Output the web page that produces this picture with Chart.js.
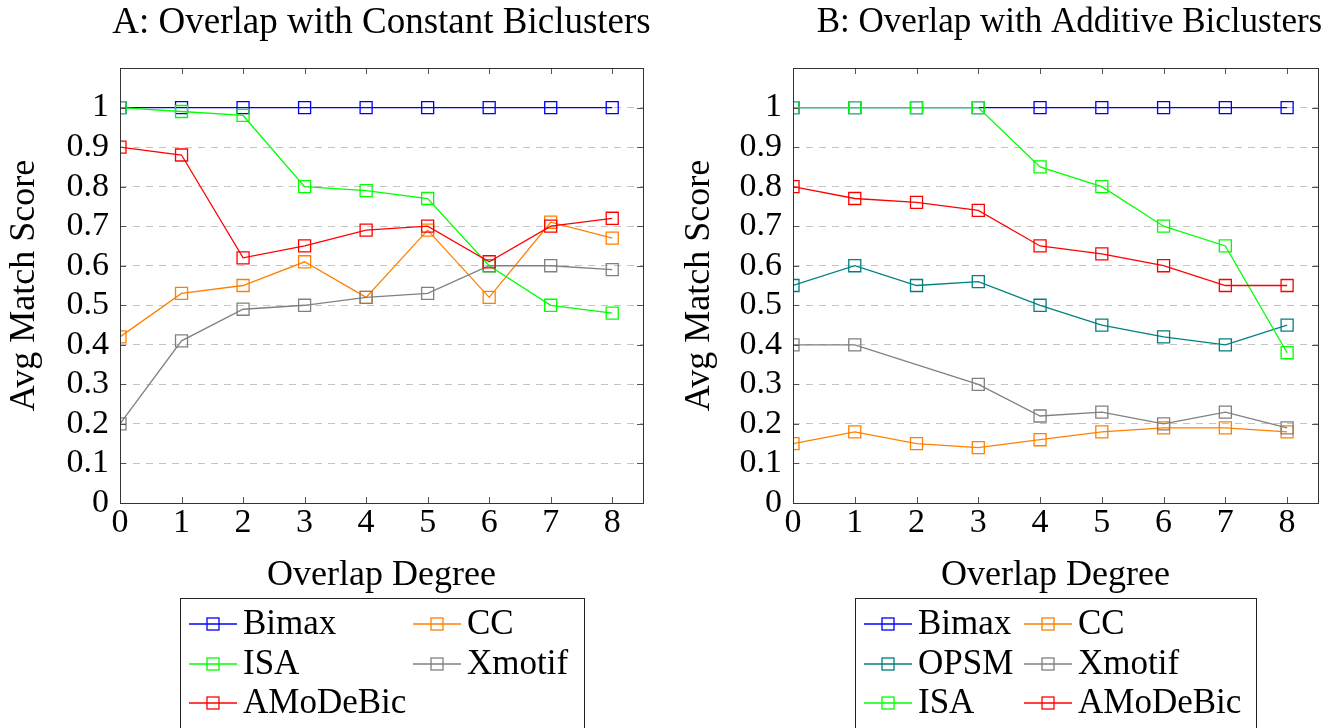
<!DOCTYPE html>
<html>
<head>
<meta charset="utf-8">
<script src="https://cdn.jsdelivr.net/npm/chart.js@4.4.1/dist/chart.umd.min.js"></script>
<style>
    body { margin: 0; background: #fff; }
    #wrap { position: relative; width: 1336px; height: 728px; overflow: hidden; }
    .pane { position: absolute; top: 0; width: 668px; height: 728px; }
</style>
</head>
<body>
<div id="wrap">
    <div class="pane" style="left:0"><canvas id="chartA" width="668" height="728"></canvas></div>
    <div class="pane" style="left:668px"><canvas id="chartB" width="668" height="728"></canvas></div>
</div>
<script>
// overlap degree on the x axis
const degrees = [0, 1, 2, 3, 4, 5, 6, 7, 8];

// A: constant biclusters
const constBimax    = [1, 1, 1, 1, 1, 1, 1, 1, 1];
const constCC       = [0.42, 0.53, 0.55, 0.61, 0.52, 0.69, 0.52, 0.71, 0.67];
const constISA      = [1, 0.99, 0.98, 0.80, 0.79, 0.77, 0.60, 0.50, 0.48];
const constXmotif   = [0.20, 0.41, 0.49, 0.50, 0.52, 0.53, 0.60, 0.60, 0.59];
const constAMoDeBic = [0.90, 0.88, 0.62, 0.65, 0.69, 0.70, 0.61, 0.70, 0.72];

// B: additive biclusters (Xmotif has no point at degree 2)
const addBimax    = [1, 1, 1, 1, 1, 1, 1, 1, 1];
const addCC       = [0.15, 0.18, 0.15, 0.14, 0.16, 0.18, 0.19, 0.19, 0.18];
const addOPSM     = [0.55, 0.60, 0.55, 0.56, 0.50, 0.45, 0.42, 0.40, 0.45];
const addXmotif   = [0.40, 0.40, null, 0.30, 0.22, 0.23, 0.20, 0.23, 0.19];
const addISA      = [1, 1, 1, 1, 0.85, 0.80, 0.70, 0.65, 0.38];
const addAMoDeBic = [0.80, 0.77, 0.76, 0.74, 0.65, 0.63, 0.60, 0.55, 0.55];

const yMax = 1.1;
const xMax = 8.5;
const serif = "'Liberation Serif', 'DejaVu Serif', serif";

const colors = {
    Bimax: '#0000ff',
    CC: '#ff8000',
    ISA: '#00ff00',
    Xmotif: '#808080',
    OPSM: '#008080',
    AMoDeBic: '#ff0000'
};

function makeSet(name, values, i, n) {
    return {
        label: name,
        data: values.map((v, k) => ({ x: degrees[k], y: v })),
        borderColor: colors[name],
        backgroundColor: 'rgba(0,0,0,0)',
        pointBackgroundColor: 'rgba(0,0,0,0)',
        pointStyle: 'rect',
        pointRadius: 8.5,
        pointBorderWidth: 1.3,
        borderWidth: 1.3,
        tension: 0,
        spanGaps: true,
        order: n - i
    };
}

// frame, inner ticks, title and boxed legend
const framePlugin = {
    id: 'frame',
    afterDatasetsDraw(chart, args, opts) {
        const { ctx, chartArea: a } = chart;
        const ys = chart.scales.y, xs = chart.scales.x;
        ctx.save();
        ctx.strokeStyle = '#555';
        ctx.lineWidth = 1;
        for (let v = 0; v <= 10; v++) {
            const py = Math.round(ys.getPixelForValue(v / 10)) + 0.5;
            ctx.beginPath();
            ctx.moveTo(a.left, py); ctx.lineTo(a.left + 6, py);
            ctx.moveTo(a.right - 6, py); ctx.lineTo(a.right, py);
            ctx.stroke();
        }
        degrees.forEach(d => {
            const px = Math.round(xs.getPixelForValue(d)) + 0.5;
            ctx.beginPath();
            ctx.moveTo(px, a.bottom); ctx.lineTo(px, a.bottom - 6);
            ctx.moveTo(px, a.top); ctx.lineTo(px, a.top + 6);
            ctx.stroke();
        });
        ctx.strokeStyle = '#333';
        ctx.strokeRect(Math.round(a.left) + 0.5, Math.round(a.top) + 0.5,
            Math.round(a.right - a.left), Math.round(a.bottom - a.top));

        // title
        ctx.fillStyle = '#000';
        ctx.font = opts.titleSize + 'px ' + serif;
        ctx.textAlign = 'center';
        ctx.textBaseline = 'middle';
        ctx.fillText(opts.title, (a.left + a.right) / 2 + opts.titleShift, 23);

        // legend
        const [bx, by, bw, bh] = opts.box;
        ctx.strokeStyle = '#222';
        ctx.strokeRect(bx + 0.5, by + 0.5, bw, bh);
        ctx.font = '35px ' + serif;
        ctx.textAlign = 'left';
        chart.data.datasets.forEach((ds, i) => {
            const cx = opts.cols[i % 2];
            const cy = opts.rows[Math.floor(i / 2)];
            ctx.strokeStyle = ds.borderColor;
            ctx.lineWidth = 1.3;
            ctx.beginPath();
            ctx.moveTo(cx, cy); ctx.lineTo(cx + 48, cy);
            ctx.stroke();
            ctx.strokeRect(cx + 18, cy - 6, 12, 12);
            ctx.fillStyle = '#000';
            ctx.fillText(ds.label, cx + 54, cy + 1);
        });
        ctx.restore();
    }
};

function tickLabel(v) {
    if (v > 1.0001) return '';
    const r = Math.round(v * 10) / 10;
    return String(r);
}

function makeChart(id, sets, padRight, legendOpts) {
    const ctx = document.getElementById(id).getContext('2d');
    return new Chart(ctx, {
        type: 'line',
        data: { datasets: sets },
        plugins: [framePlugin],
        options: {
            responsive: false,
            animation: false,
            layout: { padding: { left: 0, right: padRight, top: 68, bottom: 115 } },
            plugins: {
                legend: { display: false },
                tooltip: { enabled: false },
                frame: legendOpts
            },
            scales: {
                x: {
                    type: 'linear',
                    min: 0,
                    max: xMax,
                    afterFit: s => { s.height = 110; },
                    afterBuildTicks: s => { s.ticks = degrees.map(d => ({ value: d })); },
                    grid: { display: false, drawTicks: false },
                    border: { display: false },
                    ticks: {
                        color: '#000',
                        font: { family: serif, size: 34 },
                        padding: 0,
                        maxRotation: 0,
                        autoSkip: false
                    },
                    title: {
                        display: true,
                        text: 'Overlap Degree',
                        color: '#000',
                        font: { family: serif, size: 36 },
                        padding: { top: 0, bottom: 16 }
                    }
                },
                y: {
                    min: 0,
                    max: yMax,
                    afterFit: s => { s.width = legendOpts.axisWidth; },
                    ticks: {
                        stepSize: 0.1,
                        color: '#000',
                        font: { family: serif, size: 34 },
                        padding: 11,
                        autoSkip: false,
                        callback: tickLabel
                    },
                    grid: {
                        drawTicks: false,
                        color: ctx => (ctx.tick.value > 0.001 && ctx.tick.value < 1.05 ? '#c4c4c4' : 'rgba(0,0,0,0)'),
                        lineWidth: 1
                    },
                    border: { display: false, dash: [7, 6] },
                    title: {
                        display: true,
                        text: 'Avg Match Score',
                        color: '#000',
                        font: { family: serif, size: 36 },
                        padding: { top: legendOpts.titlePad, bottom: 0 }
                    }
                }
            }
        }
    });
}

const setsA = [
    ['Bimax', constBimax], ['CC', constCC], ['ISA', constISA],
    ['Xmotif', constXmotif], ['AMoDeBic', constAMoDeBic]
].map((p, i, arr) => makeSet(p[0], p[1], i, arr.length));

const setsB = [
    ['Bimax', addBimax], ['CC', addCC], ['OPSM', addOPSM],
    ['Xmotif', addXmotif], ['ISA', addISA], ['AMoDeBic', addAMoDeBic]
].map((p, i, arr) => makeSet(p[0], p[1], i, arr.length));

makeChart('chartA', setsA, 25, {
    title: 'A: Overlap with Constant Biclusters',
    titleSize: 37,
    titleShift: 0,
    axisWidth: 120,
    titlePad: 3,
    box: [180, 598, 404, 160],
    cols: [189, 413],
    rows: [624, 664, 703]
});

makeChart('chartB', setsB, 18, {
    title: 'B: Overlap with Additive Biclusters',
    titleSize: 35,
    titleShift: 14,
    axisWidth: 125,
    titlePad: 10,
    box: [187, 598, 401, 160],
    cols: [196, 356],
    rows: [624, 664, 703]
});
</script>
</body>
</html>
